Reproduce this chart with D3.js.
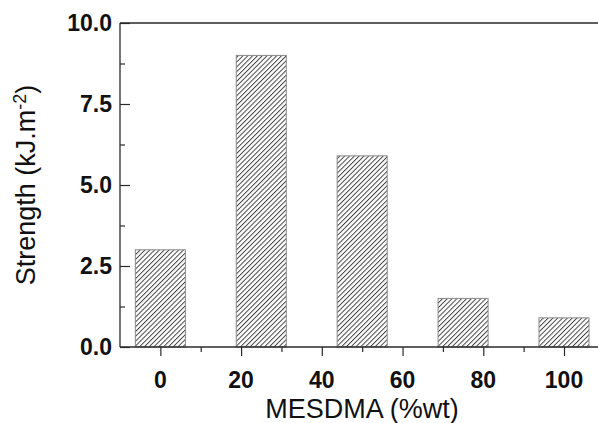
<!DOCTYPE html>
<html>
<head>
<meta charset="utf-8">
<script src="https://cdn.jsdelivr.net/npm/d3@7"></script>
<style>
  body { margin: 0; background: #fff; }
  svg { display: block; font-family: "Liberation Sans", Arial, sans-serif; }
</style>
</head>
<body>
<svg id="chart"></svg>
<script>
// MESDMA content (%wt) and impact strength (kJ.m-2)
const mesdma = [0, 25, 50, 75, 100];
const strength = [3.0, 9.0, 5.9, 1.5, 0.9];
const xTicks = [0, 20, 40, 60, 80, 100];
const yTicks = [0, 2.5, 5, 7.5, 10];

const width = 598, height = 423;
const svg = d3.select('#chart')
    .attr('width', width)
    .attr('height', height);

const plotLeft = 120, plotTop = 23, plotBottom = 347;
const ink = '#2a2a2a';

const x = d3.scaleLinear().domain([-10, 100]).range([plotLeft, 564]);
const y = d3.scaleLinear().domain([0, 10]).range([plotBottom, plotTop]);
const barW = 12.4; // in %wt units

// hatch pattern
const defs = svg.append('defs');
const pat = defs.append('pattern')
    .attr('id', 'hatch')
    .attr('patternUnits', 'userSpaceOnUse')
    .attr('width', 3.4)
    .attr('height', 10)
    .attr('patternTransform', 'rotate(45)');
pat.append('line')
    .attr('x1', 0.5).attr('y1', 0)
    .attr('x2', 0.5).attr('y2', 10)
    .attr('stroke', '#333')
    .attr('stroke-width', 0.9);

// bars
svg.append('g')
  .selectAll('rect')
  .data(mesdma)
  .join('rect')
    .attr('x', d => x(d - barW / 2))
    .attr('width', d => x(d + barW / 2) - x(d - barW / 2))
    .attr('y', (d, i) => y(strength[i]))
    .attr('height', (d, i) => y(0) - y(strength[i]))
    .attr('fill', 'url(#hatch)')
    .attr('stroke', '#8a8a8a')
    .attr('stroke-width', 1);

// top frame line
svg.append('line')
    .attr('x1', plotLeft).attr('x2', width)
    .attr('y1', plotTop).attr('y2', plotTop)
    .attr('stroke', ink).attr('stroke-width', 1.3);

// y axis (ticks pointing inward)
svg.append('g')
    .attr('transform', `translate(${plotLeft},0)`)
    .call(d3.axisRight(y).tickValues(yTicks).tickSize(10).tickFormat(''))
    .call(g => g.select('.domain').remove())
    .selectAll('line').attr('stroke', ink).attr('stroke-width', 1.2);
svg.append('g')
    .attr('transform', `translate(${plotLeft},0)`)
    .call(d3.axisRight(y).tickValues(d3.range(1.25, 10, 2.5)).tickSize(5).tickFormat(''))
    .call(g => g.select('.domain').remove())
    .selectAll('line').attr('stroke', ink).attr('stroke-width', 1.2);
svg.append('line')
    .attr('x1', plotLeft).attr('x2', plotLeft)
    .attr('y1', plotTop).attr('y2', plotBottom)
    .attr('stroke', ink).attr('stroke-width', 1.3);

svg.append('g')
  .selectAll('text')
  .data(yTicks)
  .join('text')
    .attr('x', 112)
    .attr('y', d => y(d))
    .attr('dy', '0.36em')
    .attr('text-anchor', 'end')
    .attr('font-size', 23)
    .attr('font-weight', 'bold')
    .attr('fill', '#111')
    .text(d => d.toFixed(1));

// x axis (ticks pointing outward)
svg.append('g')
    .attr('transform', `translate(0,${plotBottom})`)
    .call(d3.axisBottom(x).tickValues(xTicks).tickSize(9).tickFormat(''))
    .call(g => g.select('.domain').remove())
    .selectAll('line').attr('stroke', ink).attr('stroke-width', 1.2);
svg.append('g')
    .attr('transform', `translate(0,${plotBottom})`)
    .call(d3.axisBottom(x).tickValues(d3.range(10, 100, 20)).tickSize(5).tickFormat(''))
    .call(g => g.select('.domain').remove())
    .selectAll('line').attr('stroke', ink).attr('stroke-width', 1.2);
svg.append('line')
    .attr('x1', plotLeft).attr('x2', width)
    .attr('y1', plotBottom).attr('y2', plotBottom)
    .attr('stroke', ink).attr('stroke-width', 1.3);

svg.append('g')
  .selectAll('text')
  .data(xTicks)
  .join('text')
    .attr('x', d => x(d))
    .attr('y', 388)
    .attr('text-anchor', 'middle')
    .attr('font-size', 23)
    .attr('font-weight', 'bold')
    .attr('fill', '#111')
    .text(d => d);

// axis titles
svg.append('text')
    .attr('x', 362)
    .attr('y', 418)
    .attr('text-anchor', 'middle')
    .attr('font-size', 27)
    .attr('fill', '#111')
    .text('MESDMA (%wt)');

const yt = svg.append('text')
    .attr('transform', `translate(35,${(plotTop + plotBottom) / 2}) rotate(-90)`)
    .attr('text-anchor', 'middle')
    .attr('font-size', 27)
    .attr('fill', '#111');
yt.append('tspan').text('Strength (kJ.m');
yt.append('tspan').attr('dy', -9).attr('font-size', 18).text('-2');
yt.append('tspan').attr('dy', 9).text(')');
</script>
</body>
</html>
